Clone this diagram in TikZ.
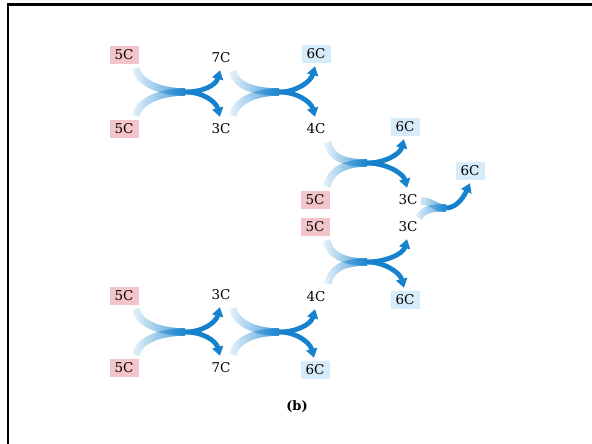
\documentclass[tikz,border=0pt]{standalone}
\usepackage{fontspec}
\setmainfont{DejaVu Serif}
\usetikzlibrary{arrows.meta,calc,fadings}
\definecolor{pinkbox}{RGB}{243,197,202}
\definecolor{bluebox}{RGB}{214,236,250}
\definecolor{arrowblue}{RGB}{22,130,206}
\tikzfading[name=tailfade, left color=transparent!90, right color=transparent!15]
\newcommand\xch[5]{%
  \draw[tail] ($(#1.south east)+(-3,4)$) .. controls +(3,15) and +(-24,0) .. (#5);
  \draw[tail] ($(#2.north east)+(-3,-4)$) .. controls +(3,-15) and +(-24,0) .. (#5);
  \draw[outarrow] (#5) .. controls +(18,0) and +(-4,15) .. ($(#3.south)+(-1,3)$);
  \draw[outarrow] (#5) .. controls +(18,0) and +(-4,-15) .. ($(#4.north)+(-1,-3)$);
}
\begin{document}
\begin{tikzpicture}[x=1pt,y=-1pt,
  lbl/.style={minimum width=29pt, minimum height=18pt, inner sep=0pt, font=\fontsize{13.5}{15}\selectfont},
  inbox/.style={lbl, fill=pinkbox},
  outbox/.style={lbl, fill=bluebox},
  tail/.style={draw=arrowblue, line width=7.5pt, path fading=tailfade},
  outarrow/.style={draw=arrowblue, line width=4.8pt, -{Triangle[length=9pt,width=11pt]}},
  frame/.style={draw=black, line width=2.2pt}]
\useasboundingbox (0,0) rectangle (592,444);
\draw[frame] (592,4.5) -- (7.8,4.5) -- (7.8,444);
% inputs (5C)
\node[inbox] (p1) at (124,55) {5C};
\node[inbox] (p2) at (124,129) {5C};
\node[inbox] (p3) at (315,200) {5C};
\node[inbox] (p4) at (315,227) {5C};
\node[inbox] (p5) at (124,296) {5C};
\node[inbox] (p6) at (124,368) {5C};
% products (6C)
\node[outbox] (b1) at (316,54) {6C};
\node[outbox] (b2) at (405,127) {6C};
\node[outbox] (b3) at (470,171) {6C};
\node[outbox] (b4) at (405,300) {6C};
\node[outbox] (b5) at (315,370) {6C};
% intermediates
\node[lbl] (t7a) at (221,58) {7C};
\node[lbl] (t3a) at (221,129) {3C};
\node[lbl] (t4a) at (316,129) {4C};
\node[lbl] (t3b) at (408,200) {3C};
\node[lbl] (t3c) at (408,227) {3C};
\node[lbl] (t3d) at (221,295) {3C};
\node[lbl] (t4b) at (316,297) {4C};
\node[lbl] (t7b) at (221,368) {7C};
\node[font=\bfseries\fontsize{13}{15}\selectfont] (cap) at (297,407) {(b)};
% junctions
\coordinate (j1) at (185,92);
\coordinate (j2) at (279,92);
\coordinate (j3) at (367,163);
\coordinate (j4) at (367,262);
\coordinate (j5) at (185,332);
\coordinate (j6) at (279,332);
\coordinate (m7) at (446,208);
\xch{p1}{p2}{t7a}{t3a}{j1}
\xch{t7a}{t3a}{b1}{t4a}{j2}
\xch{t4a}{p3}{b2}{t3b}{j3}
\xch{p4}{t4b}{t3c}{b4}{j4}
\xch{p5}{p6}{t3d}{t7b}{j5}
\xch{t3d}{t7b}{t4b}{b5}{j6}
\draw[tail] ($(t3b.east)+(-2,1)$) .. controls +(12,0) and +(-12,0) .. (m7);
\draw[tail] ($(t3c.north east)+(-4,0)$) .. controls +(6,-10) and +(-12,0) .. (m7);
\draw[outarrow] (m7) .. controls +(12,0) and +(-5,11) .. ($(b3.south)+(0,3)$);
\end{tikzpicture}
\end{document}
